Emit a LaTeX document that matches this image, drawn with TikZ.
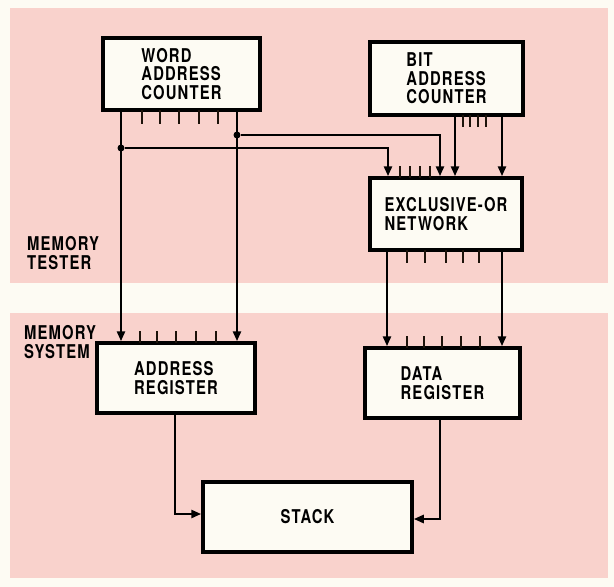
\documentclass[tikz,border=0pt]{standalone}
\usepackage{fontspec}
\usetikzlibrary{arrows.meta}
\newfontfamily\lblfont[FakeStretch=0.78,LetterSpace=6,BoldFont={TeX Gyre Heros Bold}]{TeX Gyre Heros}
\definecolor{pinkbg}{RGB}{249,210,204}
\definecolor{paper}{RGB}{253,251,243}
\begin{document}
\begin{tikzpicture}[x=1pt,y=-1pt,
  box/.style={draw=black,line width=3.5pt,fill=paper,align=left,inner sep=0pt,
    font=\lblfont\bfseries\fontsize{19}{18.5}\selectfont},
  lbl/.style={align=left,anchor=west,inner sep=0pt,font=\lblfont\bfseries\fontsize{19}{19.5}\selectfont},
  wire/.style={line width=2.6pt,black},
  arr/.style={wire,-{Triangle[length=10pt,width=8pt]}},
  tick/.style={line width=2.6pt,black!85!brown},
  dot/.style={circle,fill=black,inner sep=0pt,minimum size=7pt}]
\useasboundingbox (0,0) rectangle (614,587);
\fill[paper] (0,0) rectangle (614,587);
\fill[pinkbg] (10,8) rectangle (608,578);
\fill[paper] (10,283) rectangle (614,313);

% boxes
\node[box,minimum width=157pt,minimum height=72pt] (wac) at (181.5,74) {WORD\\ADDRESS\\COUNTER};
\node[box,minimum width=153pt,minimum height=73pt] (bac) at (446.5,78.5) {BIT\\ADDRESS\\COUNTER};
\node[box,minimum width=152pt,minimum height=72pt] (xor) at (446,214) {EXCLUSIVE-OR\\NETWORK};
\node[box,minimum width=158pt,minimum height=70pt] (areg) at (176,378) {ADDRESS\\REGISTER};
\node[box,minimum width=155pt,minimum height=70pt] (dreg) at (442.5,383) {DATA\\REGISTER};
\node[box,minimum width=209pt,minimum height=70pt] (stack) at (307.5,517) {STACK};

% side labels
\node[lbl] (tester) at (27,253) {MEMORY\\TESTER};
\node[lbl] (system) at (24,342) {MEMORY\\SYSTEM};

% coordinates for wire positions
\coordinate (c1) at (121,148);
\coordinate (c2) at (237,135);
\node[dot] (d1) at (c1) {};
\node[dot] (d2) at (c2) {};

% word address counter -> address register
\draw[arr] (wac.south -| c1) -- (areg.north -| c1);
\draw[arr] (wac.south -| c2) -- (areg.north -| c2);
% taps to exclusive-or
\coordinate (x1) at (388,0);
\coordinate (x2) at (440,0);
\draw[arr] (d1) -- (d1 -| x1) -- (xor.north -| x1);
\draw[arr] (d2) -- (d2 -| x2) -- (xor.north -| x2);
% bit address counter -> exclusive-or
\coordinate (b1) at (455,0);
\coordinate (b2) at (502,0);
\draw[arr] (bac.south -| b1) -- (xor.north -| b1);
\draw[arr] (bac.south -| b2) -- (xor.north -| b2);
% exclusive-or -> data register
\coordinate (e1) at (387,0);
\draw[arr] (xor.south -| e1) -- (dreg.north -| e1);
\draw[arr] (xor.south -| b2) -- (dreg.north -| b2);
% registers -> stack
\coordinate (s1) at (175,514);
\coordinate (s2) at (440,519);
\draw[arr] (areg.south -| s1) -- (s1) -- (stack.west |- s1);
\draw[arr] (dreg.south -| s2) -- (s2) -- (stack.east |- s2);

% tick marks
\foreach \x in {142,160,179,199,218} \draw[tick] (\x,110) -- (\x,124);
\foreach \x in {463,470,478,486} \draw[tick] (\x,115) -- (\x,127);
\foreach \x in {400,410,420,430} \draw[tick] (\x,166) -- (\x,178);
\foreach \x in {407,425,446,463,479} \draw[tick] (\x,250) -- (\x,263);
\foreach \x in {140,157,176,196,216} \draw[tick] (\x,331) -- (\x,343);
\foreach \x in {407,424,442,461,480} \draw[tick] (\x,336) -- (\x,348);
\end{tikzpicture}
\end{document}
